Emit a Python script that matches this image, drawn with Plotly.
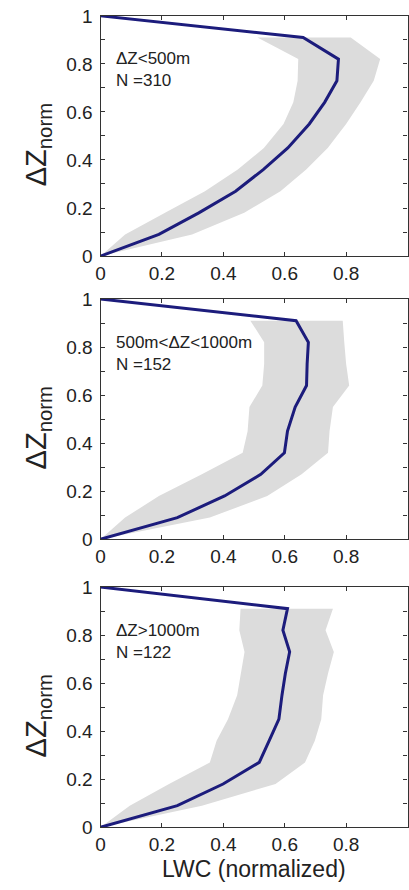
import plotly.graph_objects as go

# Normalized height levels
levels = [0, 0.09, 0.18, 0.27, 0.36, 0.45, 0.55, 0.64, 0.73, 0.82, 0.91, 1.0]

# Panel 1: dZ < 500 m
p1_mean  = [0, 0.19, 0.32, 0.44, 0.53, 0.61, 0.68, 0.73, 0.77, 0.775, 0.66, 0]
p1_lower = [0, 0.08, 0.21, 0.34, 0.447, 0.532, 0.596, 0.628, 0.642, 0.644, 0.511]
p1_upper = [0, 0.298, 0.468, 0.586, 0.67, 0.74, 0.80, 0.847, 0.89, 0.911, 0.815]

# Panel 2: 500 m < dZ < 1000 m
p2_mean  = [0, 0.25, 0.404, 0.522, 0.599, 0.609, 0.634, 0.671, 0.673, 0.677, 0.637, 0]
p2_lower = [0, 0.08, 0.19, 0.33, 0.463, 0.479, 0.485, 0.527, 0.533, 0.533, 0.488]
p2_upper = [0, 0.356, 0.543, 0.655, 0.741, 0.746, 0.757, 0.81, 0.80, 0.794, 0.789]

# Panel 3: dZ > 1000 m
p3_mean  = [0, 0.25, 0.399, 0.517, 0.549, 0.581, 0.591, 0.602, 0.616, 0.594, 0.609, 0]
p3_lower = [0, 0.095, 0.223, 0.356, 0.378, 0.415, 0.445, 0.456, 0.469, 0.452, 0.456]
p3_upper = [0, 0.33, 0.57, 0.666, 0.698, 0.719, 0.725, 0.741, 0.76, 0.733, 0.757]

panel_labels = ["ΔZ<500m<br>N =310", "500m<ΔZ<1000m<br>N =152", "ΔZ>1000m<br>N =122"]

x_ticks = [0, 0.2, 0.4, 0.6, 0.8, 1.0]
x_ticktext = ["0", "0.2", "0.4", "0.6", "0.8", "1"]
y_ticks = [0, 0.2, 0.4, 0.6, 0.8, 1.0]
y_ticktext = ["0", "0.2", "0.4", "0.6", "0.8", "1"]

W, H = 409, 890
FONT = "Liberation Sans, Arial, sans-serif"
LINE_COLOR = "#1c1c7c"
FILL_COLOR = "#dcdcdc"
AX_COLOR = "#333333"
TXT = "#222222"

# pixel positions of the panels (top, bottom)
panels_px = [(6, 252), (296, 542), (591, 837)]
x_left_px, x_right_px = 97, 408.5

fig = go.Figure()
data = [(p1_mean, p1_lower, p1_upper), (p2_mean, p2_lower, p2_upper), (p3_mean, p3_lower, p3_upper)]

layout = dict(
    width=W, height=H,
    margin=dict(l=0, r=0, t=0, b=0),
    paper_bgcolor="white", plot_bgcolor="white",
    showlegend=False,
    font=dict(family=FONT, color=TXT),
)
annotations = []

for i, ((mean, lo, up), (top, bot)) in enumerate(zip(data, panels_px)):
    k = "" if i == 0 else str(i + 1)
    xa, ya = "x" + k, "y" + k
    n = len(lo)
    fig.add_trace(go.Scatter(
        x=lo + up[::-1], y=levels[:n] + levels[:n][::-1],
        fill="toself", fillcolor=FILL_COLOR, line=dict(width=0),
        mode="lines", xaxis=xa, yaxis=ya, hoverinfo="skip"))
    fig.add_trace(go.Scatter(
        x=mean, y=levels, mode="lines",
        line=dict(color=LINE_COLOR, width=3),
        xaxis=xa, yaxis=ya))

    layout["xaxis" + k] = dict(
        domain=[x_left_px / W, x_right_px / W], range=[0, 1],
        anchor=ya, tickvals=x_ticks, ticktext=x_ticktext,
        ticks="inside", ticklen=4, tickcolor=AX_COLOR,
        showline=True, linecolor=AX_COLOR, linewidth=1.3, mirror="ticks",
        showgrid=False, zeroline=False,
        tickfont=dict(size=19, family=FONT, color=TXT),
    )
    layout["yaxis" + k] = dict(
        domain=[1 - bot / H, 1 - top / H], range=[0, 1],
        anchor=xa, tickvals=y_ticks, ticktext=y_ticktext,
        ticks="inside", ticklen=4, tickcolor=AX_COLOR,
        minor=dict(dtick=0.1, tick0=0, ticks="inside", ticklen=4, tickcolor=AX_COLOR, showgrid=False),
        showline=True, linecolor=AX_COLOR, linewidth=1.3, mirror="ticks",
        showgrid=False, zeroline=False, ticklabelstandoff=3,
        tickfont=dict(size=19, family=FONT, color=TXT),
    )
    # panel label
    annotations.append(dict(
        text=panel_labels[i], xref=xa, yref=ya, x=0.045, y=0.775,
        xanchor="left", yanchor="middle", align="left", showarrow=False,
        font=dict(size=17, family=FONT, color=TXT)))
    # y axis title
    annotations.append(dict(
        text="ΔZ<sub>norm</sub>", xref="paper", yref="paper",
        x=33 / W, y=1 - ((top + bot) / 2 + 9) / H, textangle=-90,
        xanchor="center", yanchor="middle", showarrow=False,
        font=dict(size=29, family=FONT, color=TXT)))

annotations.append(dict(
    text="LWC (normalized)", xref="paper", yref="paper",
    x=((x_left_px + x_right_px) / 2) / W, y=0, yshift=-4,
    xanchor="center", yanchor="bottom", showarrow=False, borderpad=0,
    font=dict(size=23, family=FONT, color=TXT)))

layout["annotations"] = annotations
fig.update_layout(**layout)
fig.write_html("out.html")
